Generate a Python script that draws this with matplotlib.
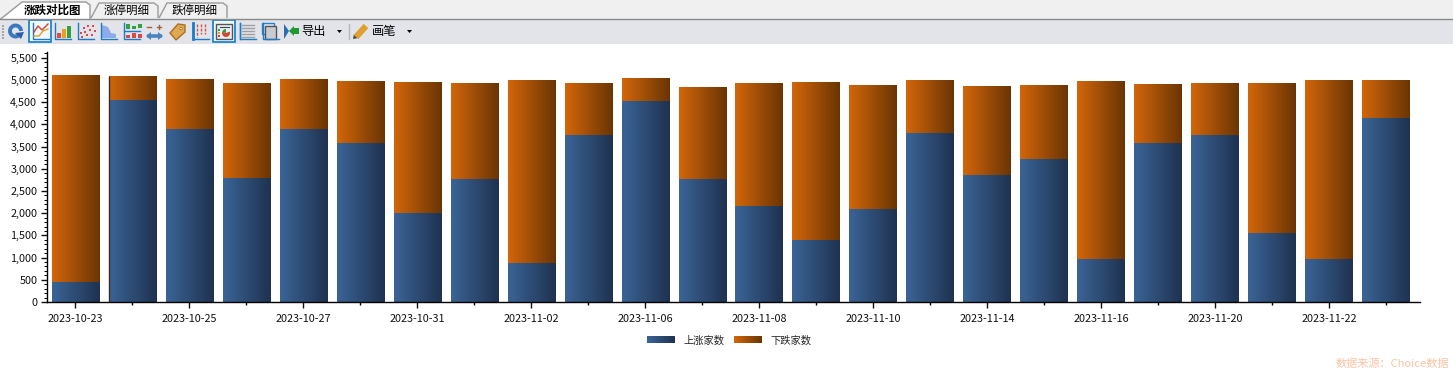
import numpy as np
import matplotlib
matplotlib.use('Agg')
import matplotlib.pyplot as plt
from matplotlib.colors import LinearSegmentedColormap
from matplotlib.patches import Rectangle, Polygon, Circle, Arc, Wedge
from matplotlib.ticker import MultipleLocator, FuncFormatter

plt.rcParams['font.family'] = ['Noto Sans CJK SC', 'DejaVu Sans']

dates = ['2023-10-23', '2023-10-24', '2023-10-25', '2023-10-26', '2023-10-27', '2023-10-30',
         '2023-10-31', '2023-11-01', '2023-11-02', '2023-11-03', '2023-11-06', '2023-11-07',
         '2023-11-08', '2023-11-09', '2023-11-10', '2023-11-13', '2023-11-14', '2023-11-15',
         '2023-11-16', '2023-11-17', '2023-11-20', '2023-11-21', '2023-11-22', '2023-11-23']
up_counts = [460, 4560, 3900, 2800, 3900, 3590, 2000, 2770, 880, 3760, 4530, 2770,
             2170, 1390, 2090, 3800, 2870, 3230, 960, 3590, 3760, 1550, 960, 4150]
down_counts = [4650, 530, 1110, 2130, 1120, 1390, 2930, 2160, 4110, 1170, 510, 2050,
               2760, 3540, 2770, 1180, 1990, 1650, 3990, 1320, 1170, 3360, 4030, 850]
tabs = ['涨跌对比图', '涨停明细', '跌停明细']
legend_names = ['上涨家数', '下跌家数']

W, H = 1453, 371
blue_cmap = LinearSegmentedColormap.from_list('blue', ['#3a6496', '#1f3250'])
orange_cmap = LinearSegmentedColormap.from_list('orange', ['#d2660a', '#6a3503'])
gradient = np.linspace(0, 1, 64).reshape(1, -1)

fig = plt.figure(figsize=(W / 100, H / 100), dpi=100, facecolor='white')

# window chrome, drawn in pixel coordinates
chrome = fig.add_axes([0, 0, 1, 1], zorder=0)
chrome.set_xlim(0, W)
chrome.set_ylim(H, 0)
chrome.axis('off')
chrome.add_patch(Rectangle((0, 0), W, 19, fc='#f0f0f0', ec='none'))
chrome.add_patch(Rectangle((0, 19), W, 25, fc='#e2e4e9', ec='none'))
chrome.plot([0, W], [18.5, 18.5], color='#8a8a8a', lw=1)

tab_boxes = [(22, 90), (91, 158), (159, 227)]
tab_centers = [52.5, 127, 195]
for i, (name, (x0, x1), cx) in enumerate(zip(tabs, tab_boxes, tab_centers)):
    top = 2 if i == 0 else 3
    bottom = 19.5 if i == 0 else 18
    fc = 'white' if i == 0 else '#f0f0f0'
    pts = [(x0 - 22 if i == 0 else x0, bottom), (x0 if i == 0 else x0 + 8, top), (x1 - 4, top),
           (x1, top + 3), (x1, bottom)]
    chrome.add_patch(Polygon(pts, closed=False, fc=fc, ec='#9a9a9a', lw=1))
    chrome.text(cx, 10.5, name, fontsize=8.3, ha='center', va='center',
                color='black', fontweight='bold' if i == 0 else 'normal')

# toolbar grip and selected button frames
for y in range(25, 40, 3):
    chrome.add_patch(Rectangle((2, y), 1.5, 1.5, fc='#a8a8a8', ec='none'))
for x0 in (29, 213):
    chrome.add_patch(Rectangle((x0, 19.5), 21.5, 22.5, fc='#f4f8fc', ec='#0a7fd0', lw=1.2))

# refresh icon
chrome.add_patch(Arc((15.5, 31), 11, 11, theta1=60, theta2=360, ec='#3a78c0', lw=2.8))
chrome.add_patch(Polygon([(15, 33), (24, 32), (21, 39)], fc='#2a5ea8', ec='none'))

# small chart icons share a blue L-shaped axis
for x0 in (32, 54, 77, 100, 123, 192, 239, 262):
    chrome.plot([x0 + 1, x0 + 1, x0 + 17], [23, 38.5, 38.5], color='#1c7cc8', lw=1)
chrome.plot([34, 39, 43, 48], [36, 36, 31, 29], color='#e8a020', lw=1)
chrome.plot([34, 38, 42, 48], [32, 26, 30, 24], color='#d04030', lw=1)
for x0, h, c in [(57, 5, '#e05030'), (62, 9, '#e8a020'), (67, 12, '#30a040')]:
    chrome.add_patch(Rectangle((x0, 38 - h), 3.5, h, fc=c, ec='none'))
for px, py in [(80, 32), (83, 27), (86, 34), (89, 29), (92, 25), (84, 31), (91, 34), (87, 25), (81, 36), (94, 30)]:
    chrome.add_patch(Rectangle((px, py), 1.8, 1.8, fc='#e04848', ec='none'))
chrome.add_patch(Polygon([(102, 38), (102, 25), (108, 27), (111, 33), (116, 34), (116, 38)],
                         fc='#8cabe8', ec='none'))
chrome.plot([123.5, 140], [30.5, 30.5], color='#1c7cc8', lw=1)
for x0, y0, h, c in [(126, 24, 5, '#30a040'), (132, 26, 3, '#30a040'), (138, 24, 4, '#30a040'),
                     (126, 35, 3, '#e04848'), (132, 33, 5, '#e04848'), (138, 34, 4, '#e04848')]:
    chrome.add_patch(Rectangle((x0, y0), 4, h, fc=c, ec='none'))

# zoom arrows, tag
chrome.plot([149, 160], [36, 36], color='#4a84c0', lw=2.6)
chrome.add_patch(Polygon([(146, 36), (151, 32), (151, 40)], fc='#4a84c0', ec='none'))
chrome.add_patch(Polygon([(163, 36), (158, 32), (158, 40)], fc='#4a84c0', ec='none'))
chrome.plot([147, 151], [27, 27], color='#a06030', lw=1)
chrome.plot([157, 161], [27, 27], color='#a06030', lw=1)
chrome.plot([159, 159], [25, 29], color='#a06030', lw=1)
chrome.add_patch(Polygon([(170, 33), (178, 24), (185, 25), (185, 32), (176, 40)], fc='#e0a850', ec='#a87020', lw=1))
chrome.add_patch(Circle((181, 28.5), 1.2, fc='white', ec='#a87020', lw=0.6))

# table icon with red digits
chrome.plot([193, 193], [23, 39], color='#1c7cc8', lw=2)
for px in (197, 201, 205):
    chrome.plot([px, px], [24, 37 if px == 197 else 34], color='#d85040', lw=1, ls=(0, (2, 1)))

# selected legend icon
chrome.add_patch(Rectangle((216, 24), 15.5, 15, fc='#e8eef4', ec='#555555', lw=1))
chrome.plot([220, 229], [26.5, 26.5], color='#444444', lw=0.8)
for y, c in [(29, '#30a040'), (32, '#e8a020'), (35, '#d04a30')]:
    chrome.add_patch(Rectangle((218, y), 1.6, 1.6, fc=c, ec='none'))
chrome.add_patch(Wedge((226, 33), 4, -20, 200, fc='#d04a30', ec='none'))
chrome.add_patch(Wedge((226, 33), 4, 200, 270, fc='#30a040', ec='none'))

# list icon and table icon
chrome.plot([239.5, 239.5], [23, 39], color='#1c7cc8', lw=1)
for y in range(25, 40, 3):
    chrome.plot([242, 254], [y, y], color='#a0a0a0', lw=1)
chrome.add_patch(Rectangle((262, 23), 12, 11, fc='none', ec='#2a80c8', lw=1))
chrome.add_patch(Rectangle((265, 26), 11, 13, fc='#c8ccd0', ec='#555555', lw=1))

# export / pen buttons
chrome.add_patch(Polygon([(284, 24), (289, 31), (284, 39)], fc='#2a6eb8', ec='none'))
chrome.add_patch(Polygon([(289, 31), (294, 26), (294, 28), (299, 28), (299, 34), (294, 34), (294, 36)],
                         fc='#1f9a30', ec='none'))
chrome.text(314, 31, '导出', fontsize=8.8, ha='center', va='center', color='black')
chrome.add_patch(Polygon([(337, 30), (342, 30), (339.5, 33)], fc='black', ec='none'))
chrome.plot([348.5, 348.5], [24, 39], color='#b8b8b8', lw=1)
chrome.plot([356, 366], [37, 26], color='#e0a030', lw=4.5, solid_capstyle='butt')
chrome.add_patch(Polygon([(353, 39), (354, 34), (358, 38)], fc='#444444', ec='none'))
chrome.text(384, 31, '画笔', fontsize=8.8, ha='center', va='center', color='black')
chrome.add_patch(Polygon([(407, 30), (412, 30), (409.5, 33)], fc='black', ec='none'))

# legend
for x0, cmap, name in zip((647, 734), (blue_cmap, orange_cmap), legend_names):
    chrome.imshow(gradient, cmap=cmap, extent=(x0, x0 + 28, 343, 336), aspect='auto', interpolation='bilinear')
    chrome.text(x0 + 36, 340.5, name, fontsize=7.4, ha='left', va='center', color='#222222')
chrome.set_xlim(0, W)
chrome.set_ylim(H, 0)

chrome.text(1449, 364, '数据来源：Choice数据', fontsize=8, ha='right', va='center', color='#f9c3a5')

# chart area: x axis spans 47-1420 px, y axis spans 302-52 px
ax = fig.add_axes([47 / W, (H - 302) / H, (1420 - 47) / W, 250 / H], zorder=1)
ax.patch.set_alpha(0)
x = np.arange(len(dates))
bar_width = 0.83
bars_up = ax.bar(x, up_counts, width=bar_width, color='#2b4a72')
bars_down = ax.bar(x, down_counts, width=bar_width, bottom=up_counts, color='#98500a')

x_left, x_right = -0.5, 23.6
for bars, cmap in ((bars_up, blue_cmap), (bars_down, orange_cmap)):
    for bar in bars:
        ax.imshow(gradient, cmap=cmap, aspect='auto', interpolation='bilinear', zorder=2,
                  extent=(bar.get_x(), bar.get_x() + bar.get_width(), bar.get_y(), bar.get_y() + bar.get_height()))

# the second bar has a dark edge on its left side in the original
ax.vlines(bars_up[1].get_x(), 0, up_counts[1] + down_counts[1], color='#3a2a20', lw=1, zorder=3)

ax.set_xlim(x_left, x_right)
ax.set_ylim(0, 5630)

ax.spines['top'].set_visible(False)
ax.spines['right'].set_visible(False)
ax.spines['left'].set_linewidth(1)
ax.spines['bottom'].set_linewidth(1)

ax.yaxis.set_major_locator(MultipleLocator(500))
ax.yaxis.set_minor_locator(MultipleLocator(100))
ax.yaxis.set_major_formatter(FuncFormatter(lambda v, pos: f'{int(v):,}'))
ax.tick_params(axis='y', which='major', length=4, width=1, labelsize=7.8, pad=3, colors='#111111')
ax.tick_params(axis='y', which='minor', length=2, width=0.7)

ax.set_xticks(x[::2])
ax.set_xticklabels(dates[::2])
ax.set_xticks(x[1::2], minor=True)
ax.tick_params(axis='x', which='major', length=4, width=1, labelsize=7.8, pad=5, colors='#111111')
ax.tick_params(axis='x', which='minor', length=2, width=1)

fig.savefig('out.png', dpi=100)
